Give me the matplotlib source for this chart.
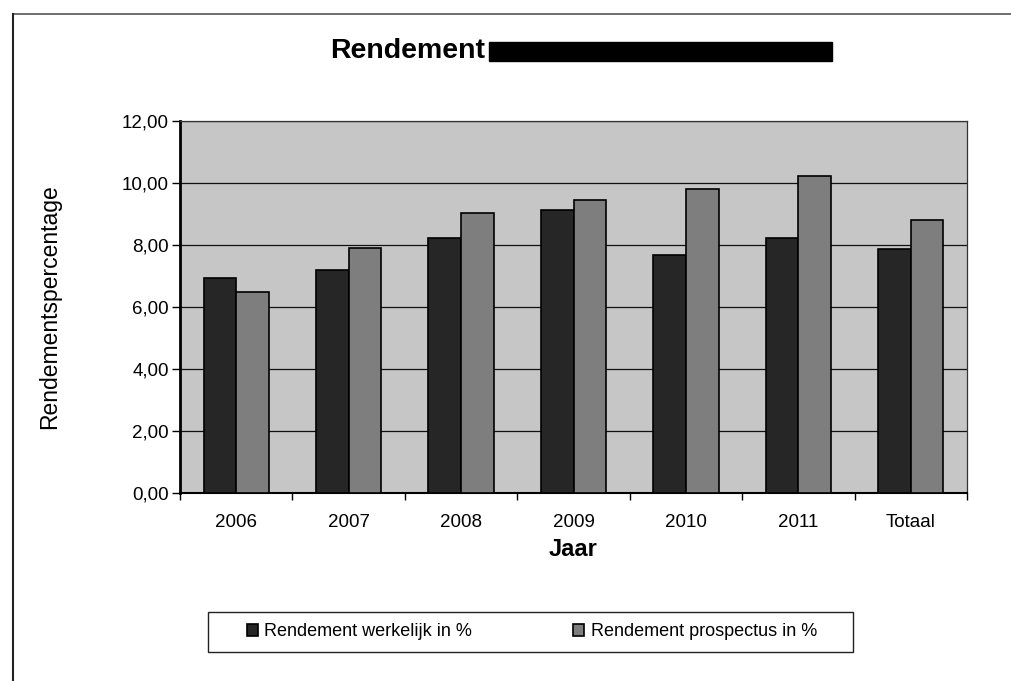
import matplotlib
matplotlib.use("Agg")
import matplotlib.pyplot as plt
from matplotlib.patches import Rectangle
from matplotlib.lines import Line2D
import numpy as np

plt.rcParams['font.family'] = ['Liberation Sans', 'DejaVu Sans']

categories = ["2006", "2007", "2008", "2009", "2010", "2011", "Totaal"]
werkelijk = [6.94, 7.18, 8.21, 9.14, 7.67, 8.23, 7.88]
prospectus = [6.48, 7.90, 9.03, 9.44, 9.80, 10.23, 8.80]
series_labels = ["Rendement werkelijk in %", "Rendement prospectus in %"]
yticks = [0, 2, 4, 6, 8, 10, 12]

W, H = 1011, 681
fig = plt.figure(figsize=(W / 100, H / 100), dpi=100)
fig.patch.set_facecolor("white")

def fx(px):
    return px / W

def fy(py):
    return 1 - py / H

ax = fig.add_axes([fx(180), fy(493), fx(967) - fx(180), fy(121) - fy(493)])
ax.set_facecolor("#c6c6c6")

x = np.arange(len(categories))
bw = 0.29
b1 = ax.bar(x - bw / 2, werkelijk, bw, color="#262626", edgecolor="black",
            linewidth=1.2, label=series_labels[0], zorder=3)
b2 = ax.bar(x + bw / 2, prospectus, bw, color="#7e7e7e", edgecolor="black",
            linewidth=1.2, label=series_labels[1], zorder=3)

ax.set_xlim(-0.5, len(categories) - 0.5)
ax.set_ylim(0, 12)
ax.set_yticks(yticks)
ax.set_yticklabels([f"{v:.2f}".replace(".", ",") for v in yticks], fontsize=13.5)
ax.yaxis.grid(True, color="#111111", linewidth=0.9, zorder=1)
ax.set_axisbelow(True)

ax.set_xticks(x)
ax.set_xticklabels(categories, fontsize=13.5)
ax.tick_params(axis="x", length=0, pad=15)
ax.set_xticks(np.arange(len(categories) + 1) - 0.5, minor=True)
ax.tick_params(axis="x", which="minor", length=5, width=1, direction="out")
ax.tick_params(axis="y", length=6, width=1, direction="out", pad=2)

for s in ["top", "right"]:
    ax.spines[s].set_color("#333333")
    ax.spines[s].set_linewidth(0.9)
ax.spines["left"].set_linewidth(2)
ax.spines["bottom"].set_linewidth(1.5)

ax.set_xlabel("Jaar", fontsize=17, fontweight="bold")
ax.set_ylabel("Rendementspercentage", fontsize=16.5)
ax.yaxis.set_label_coords((61 - 180) / (967 - 180), 0.5)
ax.xaxis.set_label_coords(0.5, -(538 - 493) / (493 - 121))

# Title
fig.text(fx(330), fy(51), "Rendement", fontsize=20.5, fontweight="bold",
         ha="left", va="center")
fig.patches.append(Rectangle((fx(489), fy(61)), fx(832) - fx(489), fy(42) - fy(61),
                             transform=fig.transFigure, facecolor="black",
                             edgecolor="black", figure=fig))

# Legend frame
fig.patches.append(Rectangle((fx(208), fy(652)), fx(853) - fx(208), fy(612) - fy(652),
                             transform=fig.transFigure, facecolor="white",
                             edgecolor="#222222", linewidth=1.0, figure=fig))
leg = fig.legend(handles=[b1, b2], labels=series_labels, loc="center",
                 bbox_to_anchor=(fx(532), fy(632)), ncol=2, frameon=False,
                 fontsize=13, handlelength=0.6, handleheight=0.6,
                 handletextpad=0.35, columnspacing=5.6)

# Outer chart frame
fig.lines.append(Line2D([fx(13), fx(1011)], [fy(14), fy(14)], transform=fig.transFigure,
                        color="#555555", linewidth=1.2))
fig.lines.append(Line2D([fx(13), fx(13)], [fy(14), fy(681)], transform=fig.transFigure,
                        color="#222222", linewidth=1.5))

fig.savefig("out.png", dpi=100, facecolor="white")
